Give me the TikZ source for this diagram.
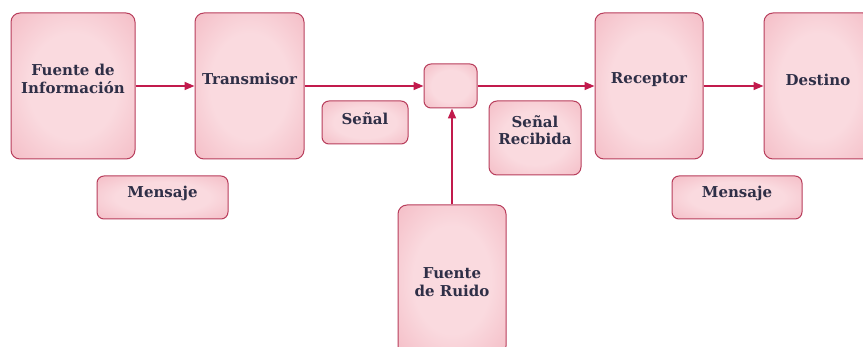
\documentclass[tikz,border=0pt]{standalone}
\usepackage{fontspec}
\setmainfont{DejaVu Serif}
\usetikzlibrary{arrows.meta}
\definecolor{boxline}{HTML}{B83E5C}
\definecolor{boxin}{HTML}{FADADF}
\definecolor{boxmid}{HTML}{F4BDC6}
\definecolor{boxout}{HTML}{EC9AA8}
\definecolor{arr}{HTML}{C21A4C}
\definecolor{txt}{HTML}{2F2F47}
\pgfdeclareradialshading{pinkrad}{\pgfpoint{0bp}{0bp}}{color(0bp)=(boxin); color(18bp)=(boxin); color(36bp)=(boxmid); color(52bp)=(boxout); color(75bp)=(boxout)}
\begin{document}
\begin{tikzpicture}[x=1pt,y=-1pt,
  box/.style={draw=boxline, line width=1pt, rounded corners=9pt, shading=pinkrad, inner sep=0pt},
  lbl/.style={font=\bfseries\fontsize{15}{17.5}\selectfont, text=txt, align=center},
  link/.style={draw=arr, line width=1.7pt, -{Triangle[length=10pt,width=8pt]}}]
\useasboundingbox (0,0) rectangle (863,347);
\clip (0,0) rectangle (863,347);
\fill[white] (0,0) rectangle (863,347);
% main boxes
\node[box, minimum width=124pt, minimum height=146pt] (fuente) at (73,86) {};
\node[box, minimum width=109pt, minimum height=146pt] (trans) at (249.5,86) {};
\node[box, minimum width=53pt, minimum height=44pt, rounded corners=7pt] (mezcla) at (450.5,86) {};
\node[box, minimum width=108pt, minimum height=146pt] (recep) at (649,86) {};
\node[box, minimum width=108pt, minimum height=146pt] (dest) at (818,86) {};
\node[box, minimum width=108pt, minimum height=150pt] (ruido) at (452,280) {};
% label boxes
\node[box, minimum width=86pt, minimum height=43pt, rounded corners=7pt] (senal) at (365,122.5) {};
\node[box, minimum width=92pt, minimum height=74pt, rounded corners=8pt] (senalr) at (535,138) {};
\node[box, minimum width=131pt, minimum height=43pt, rounded corners=7pt] (mens1) at (162.5,197.5) {};
\node[box, minimum width=130pt, minimum height=43pt, rounded corners=7pt] (mens2) at (737,197.5) {};
% texts
\node[lbl] (fuenteT) at ([yshift=7pt]fuente.center) {Fuente de\\Información};
\node[lbl] (transT) at ([yshift=7pt]trans.center) {Transmisor};
\node[lbl] (recepT) at ([yshift=6pt]recep.center) {Receptor};
\node[lbl] (destT) at ([yshift=6pt]dest.center) {Destino};
\node[lbl] (ruidoT) at ([yshift=-2pt]ruido.center) {Fuente\\de Ruido};
\node[lbl] (senalT) at ([yshift=4pt]senal.center) {Señal};
\node[lbl] (senalrT) at ([yshift=8pt]senalr.center) {Señal\\Recibida};
\node[lbl] (mens1T) at ([yshift=4pt]mens1.center) {Mensaje};
\node[lbl] (mens2T) at ([yshift=4pt]mens2.center) {Mensaje};
% connectors
\draw[link] (fuente.east) -- (trans.west);
\draw[link] (trans.east) -- (mezcla.west);
\draw[link] (mezcla.east) -- (recep.west);
\draw[link] (recep.east) -- (dest.west);
\draw[link] (ruido.north) -- (ruido.north |- mezcla.south);
\end{tikzpicture}
\end{document}
